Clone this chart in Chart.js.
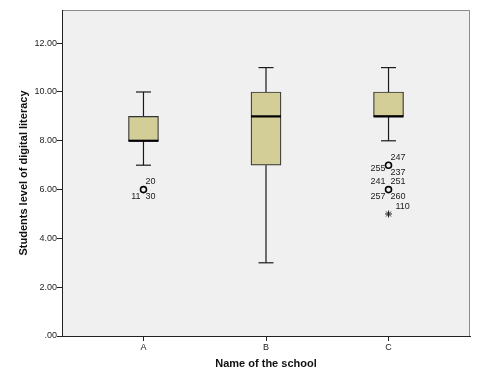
<!DOCTYPE html>
<html>
<head>
<meta charset="utf-8">
<script src="https://cdn.jsdelivr.net/npm/chart.js@4/dist/chart.umd.min.js"></script>
<style>
  html, body { margin: 0; padding: 0; background: #fff; }
</style>
</head>
<body>
<canvas id="myChart" width="500" height="375"></canvas>
<script>
// box plot values per school
const categories = ["A", "B", "C"];
const catPos = [1, 2, 3];
const whiskerLow = [7, 3, 8];
const q1 = [8, 7, 9];
const median = [8, 9, 9];
const q3 = [9, 10, 10];
const whiskerHigh = [10, 11, 11];

// outliers (circles) and extremes (stars)
const circleCat = [1, 3, 3];
const circleVal = [6, 7, 6];
const circleIds = [["20", "11", "30"], ["247", "255", "237"], ["241", "251", "257", "260"]];
const starCat = [3];
const starVal = [5];
const starIds = [["110"]];

const yTicks = [0, 2, 4, 6, 8, 10, 12];

// where each case number sits around its point
const circleIdSpots = [["ur", "ll", "lr"], ["ur", "l", "lr"], ["ul", "ur", "ll", "lr"]];
const starIdSpots = [["ur2"]];

const FONT = "'Liberation Sans', Arial, sans-serif";

// whisker lines, broken with null points
const whiskerPts = [];
catPos.forEach((x, i) => {
  whiskerPts.push({ x: x, y: whiskerLow[i] }, { x: x, y: q1[i] }, { x: x, y: null });
  whiskerPts.push({ x: x, y: q3[i] }, { x: x, y: whiskerHigh[i] }, { x: x, y: null });
});

const capPts = [];
catPos.forEach((x, i) => {
  capPts.push({ x: x, y: whiskerLow[i] }, { x: x, y: whiskerHigh[i] });
});

const boxData = catPos.map((x, i) => ({ x: x, y: [q1[i], q3[i]] }));
const medianData = catPos.map((x, i) => ({ x: x, y: median[i] }));
const circleData = circleCat.map((x, i) => ({ x: x, y: circleVal[i] }));
const starData = starCat.map((x, i) => ({ x: x, y: starVal[i] }));

const spotOffsets = {
  ur: { dx: 2, dy: -8, align: "left" },
  ur2: { dx: 7, dy: -7, align: "left" },
  ul: { dx: -3, dy: -8, align: "right" },
  ll: { dx: -3, dy: 7, align: "right" },
  lr: { dx: 2, dy: 7, align: "left" },
  l: { dx: -3, dy: 3, align: "right" }
};

const plotBackground = {
  id: "plotBackground",
  beforeDraw(chart) {
    const { ctx, chartArea } = chart;
    ctx.save();
    ctx.fillStyle = "#ffffff";
    ctx.fillRect(0, 0, chart.width, chart.height);
    ctx.fillStyle = "#f0f0f0";
    ctx.fillRect(chartArea.left, chartArea.top, chartArea.right - chartArea.left, chartArea.bottom - chartArea.top);
    ctx.strokeStyle = "#8a8a8a";
    ctx.lineWidth = 1;
    ctx.beginPath();
    ctx.moveTo(chartArea.left, chartArea.top + 0.5);
    ctx.lineTo(chartArea.right - 0.5, chartArea.top + 0.5);
    ctx.lineTo(chartArea.right - 0.5, chartArea.bottom);
    ctx.stroke();
    ctx.restore();
  }
};

// case numbers next to the outliers
const caseLabels = {
  id: "caseLabels",
  afterDatasetsDraw(chart) {
    const { ctx } = chart;
    const xs = chart.scales.x, ys = chart.scales.y;
    ctx.save();
    ctx.font = "9px " + FONT;
    ctx.fillStyle = "#222";
    ctx.textBaseline = "middle";
    const put = (cats, vals, ids, spots) => {
      cats.forEach((c, i) => {
        const px = xs.getPixelForValue(c);
        const py = ys.getPixelForValue(vals[i]);
        ids[i].forEach((t, j) => {
          const o = spotOffsets[spots[i][j]];
          ctx.textAlign = o.align;
          ctx.fillText(t, px + o.dx, py + o.dy);
        });
      });
    };
    put(circleCat, circleVal, circleIds, circleIdSpots);
    put(starCat, starVal, starIds, starIdSpots);
    ctx.restore();
  }
};

const ctx = document.getElementById("myChart").getContext("2d");
const chart = new Chart(ctx, {
  type: "scatter",
  data: {
    datasets: [
      {
        type: "scatter",
        data: whiskerPts,
        showLine: true,
        spanGaps: false,
        borderColor: "#1a1a1a",
        borderWidth: 1.2,
        pointRadius: 0,
        order: 5
      },
      {
        type: "bar",
        data: boxData,
        backgroundColor: "rgb(211, 206, 151)",
        borderColor: "#333",
        borderWidth: 1.2,
        borderSkipped: false,
        barThickness: 30,
        order: 4
      },
      {
        type: "scatter",
        data: medianData,
        pointStyle: "line",
        pointRadius: 15,
        borderColor: "#000",
        borderWidth: 2.2,
        order: 3
      },
      {
        type: "scatter",
        data: capPts,
        pointStyle: "line",
        pointRadius: 7.5,
        borderColor: "#1a1a1a",
        borderWidth: 1.2,
        order: 2
      },
      {
        type: "scatter",
        data: circleData,
        pointStyle: "circle",
        pointRadius: 3,
        backgroundColor: "#f0f0f0",
        borderColor: "#000",
        borderWidth: 1.6,
        order: 1
      },
      {
        type: "scatter",
        data: starData,
        pointStyle: "star",
        pointRadius: 3.5,
        borderColor: "#222",
        borderWidth: 1,
        order: 1
      }
    ]
  },
  options: {
    responsive: false,
    animation: false,
    layout: { autoPadding: false, padding: { top: 10, right: 30, left: 0, bottom: 0 } },
    plugins: {
      legend: { display: false },
      tooltip: { enabled: false }
    },
    scales: {
      x: {
        type: "linear",
        offset: false,
        min: 0.335,
        max: 3.665,
        afterBuildTicks: (scale) => { scale.ticks = catPos.map(v => ({ value: v })); },
        afterFit: (scale) => { scale.height = 39; scale.paddingLeft = 0; scale.paddingRight = 0; },
        ticks: {
          callback: (v) => categories[catPos.indexOf(v)],
          font: { family: FONT, size: 9 },
          color: "#222",
          padding: 1,
          autoSkip: false,
          maxRotation: 0
        },
        grid: { offset: false, drawOnChartArea: false, drawTicks: true, tickLength: 5, color: "#222" },
        border: { display: true, color: "#222", width: 1 },
        title: {
          display: true,
          text: "Name of the school",
          font: { family: FONT, size: 11, weight: "bold" },
          color: "#111",
          padding: { top: 0, bottom: 4 }
        }
      },
      y: {
        type: "linear",
        min: 0,
        max: 13.36,
        afterBuildTicks: (scale) => { scale.ticks = yTicks.map(v => ({ value: v })); },
        afterFit: (scale) => { scale.width = 62; scale.paddingTop = 0; scale.paddingBottom = 0; },
        ticks: {
          callback: (v) => (v === 0 ? ".00" : v.toFixed(2)),
          font: { family: FONT, size: 9 },
          color: "#222",
          padding: 0
        },
        grid: { drawOnChartArea: false, drawTicks: true, tickLength: 5, color: "#222" },
        border: { display: true, color: "#222", width: 1 },
        title: {
          display: true,
          text: "Students level of digital literacy",
          font: { family: FONT, size: 11, weight: "bold" },
          color: "#111",
          padding: { top: 17, bottom: 0 }
        }
      }
    }
  },
  plugins: [plotBackground, caseLabels]
});
</script>
</body>
</html>
